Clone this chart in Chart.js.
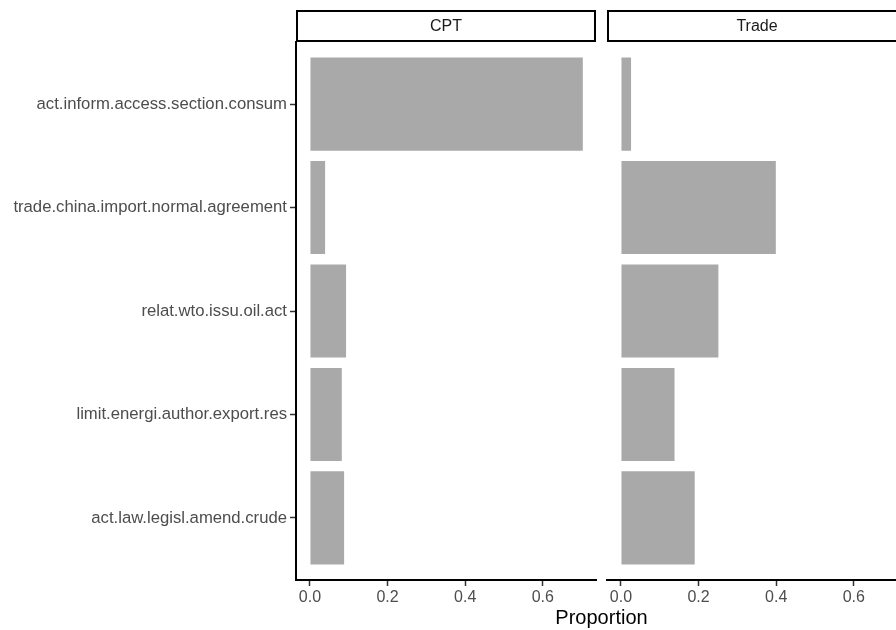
<!DOCTYPE html>
<html>
<head>
<meta charset="utf-8">
<script src="https://cdn.jsdelivr.net/npm/chart.js@4"></script>
<style>
  html, body { margin: 0; padding: 0; background: #fff; overflow: hidden; }
  #wrap { position: relative; width: 896px; height: 630px; overflow: hidden; }
  #c1 { position: absolute; left: 0; top: 0; }
  #c2 { position: absolute; left: 600px; top: 0; }
  #xtitle {
    position: absolute; left: 0; width: 1203px; top: 607px;
    text-align: center; font: 20px "Liberation Sans", Arial, sans-serif;
    line-height: 20px; color: #000;
  }
</style>
</head>
<body>
<div id="wrap">
  <canvas id="c1" width="600" height="630"></canvas>
  <canvas id="c2" width="310" height="630"></canvas>
  <div id="xtitle">Proportion</div>
</div>
<script>
// data
const topics = [
  "act.inform.access.section.consum",
  "trade.china.import.normal.agreement",
  "relat.wto.issu.oil.act",
  "limit.energi.author.export.res",
  "act.law.legisl.amend.crude",
];
const panels = ["CPT", "Trade"];
const cptValues = [0.703, 0.039, 0.093, 0.082, 0.088];
const tradeValues = [0.026, 0.399, 0.251, 0.138, 0.19];
const xTicks = [0, 0.2, 0.4, 0.6];

const FONT = '"Liberation Sans", Arial, sans-serif';

// facet strip above each panel
const stripPlugin = {
  id: "strip",
  afterDraw(chart, args, opts) {
    const ctx = chart.ctx;
    const a = chart.chartArea;
    ctx.save();
    ctx.strokeStyle = "#000";
    ctx.lineWidth = 2;
    ctx.strokeRect(a.left + 1, 11, a.right - a.left - 2, 30);
    ctx.fillStyle = "#1a1a1a";
    ctx.font = "16px " + FONT;
    ctx.textAlign = "center";
    ctx.textBaseline = "middle";
    ctx.fillText(opts.label, (a.left + a.right) / 2, 27);
    ctx.restore();
  },
};

function makePanel(id, values, label, showY, pad) {
  return new Chart(document.getElementById(id), {
    type: "bar",
    data: {
      datasets: [
        {
          data: values.map((v, i) => ({ x: v, y: i + 1 })),
          backgroundColor: "#a9a9a9",
          borderWidth: 0,
          barPercentage: 0.9,
          categoryPercentage: 1,
        },
      ],
    },
    options: {
      indexAxis: "y",
      responsive: false,
      animation: false,
      events: [],
      layout: { padding: pad },
      plugins: {
        legend: { display: false },
        tooltip: { enabled: false },
        strip: { label: label },
      },
      scales: {
        x: {
          type: "linear",
          min: -0.036,
          max: 0.737,
          afterBuildTicks: (s) => {
            s.ticks = xTicks.map((v) => ({ value: v }));
          },
          afterFit: (s) => {
            s.height = 50;
          },
          ticks: {
            callback: (v) => v.toFixed(1),
            color: "#4d4d4d",
            font: { family: FONT, size: 16 },
            padding: 2,
            maxRotation: 0,
          },
          grid: {
            drawOnChartArea: false,
            drawTicks: true,
            tickLength: 6,
            tickColor: "#333",
            tickWidth: 1.5,
          },
          border: { display: true, color: "#000", width: 2 },
        },
        y: {
          type: "linear",
          display: showY,
          reverse: true,
          offset: false,
          min: 0.4,
          max: 5.6,
          afterBuildTicks: (s) => {
            s.ticks = topics.map((t, i) => ({ value: i + 1 }));
          },
          afterFit: (s) => {
            if (showY) s.width = 296;
          },
          ticks: {
            callback: (v) => topics[v - 1],
            color: "#4d4d4d",
            font: { family: FONT, size: 16.7 },
            padding: 3,
          },
          grid: {
            offset: false,
            drawOnChartArea: false,
            drawTicks: true,
            tickLength: 6,
            tickColor: "#333",
            tickWidth: 1.5,
          },
          border: { display: true, color: "#000", width: 2 },
        },
      },
    },
    plugins: [stripPlugin],
  });
}

makePanel("c1", cptValues, panels[0], true, { left: 0, right: 4, top: 42, bottom: 0 });
makePanel("c2", tradeValues, panels[1], false, { left: 7, right: 3, top: 42, bottom: 0 });
</script>
</body>
</html>
